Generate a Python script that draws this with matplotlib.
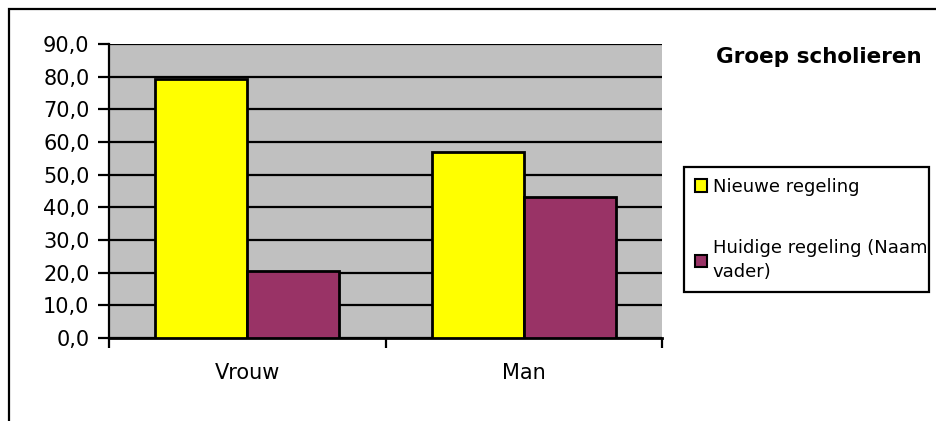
import matplotlib
matplotlib.use("Agg")
import matplotlib.pyplot as plt
from matplotlib.patches import Rectangle, Patch
import numpy as np

categories = ["Vrouw", "Man"]
series_names = ["Nieuwe regeling", "Huidige regeling (Naam\nvader)"]
nieuwe = [79.4, 56.8]
huidige = [20.6, 43.2]
yticks = [0, 10, 20, 30, 40, 50, 60, 70, 80, 90]
title = "Groep scholieren"

YELLOW = "#FFFF00"
PURPLE = "#993366"
GRAY = "#C0C0C0"

plt.rcParams['font.family'] = ['DejaVu Sans']

W, H = 936, 421
fig = plt.figure(figsize=(W / 100, H / 100), dpi=100)
ax = fig.add_axes([109 / W, 1 - 338 / H, (662 - 109) / W, (338 - 44) / H])
ax.set_facecolor(GRAY)

x = np.arange(len(categories))
w = 1 / 3
ax.bar(x - w / 2, nieuwe, width=w, color=YELLOW, edgecolor="black", linewidth=2, zorder=3, label=series_names[0])
ax.bar(x + w / 2, huidige, width=w, color=PURPLE, edgecolor="black", linewidth=2, zorder=3, label=series_names[1])

ax.set_xlim(-0.5, len(categories) - 0.5)
ax.set_ylim(0, 90)
ax.set_yticks(yticks)
ax.set_yticklabels([f"{v:.1f}".replace(".", ",") for v in yticks], fontsize=15)
ax.yaxis.grid(True, color="black", linewidth=1.6, zorder=1)
ax.set_axisbelow(True)

ax.set_xticks(x)
ax.set_xticklabels(categories, fontsize=15)
ax.tick_params(axis="x", length=0, pad=18)
ax.set_xticks([-0.5, 0.5, 1.5], minor=True)
ax.tick_params(axis="x", which="minor", length=7, width=1.6, direction="out")
ax.tick_params(axis="y", length=8, width=1.6, direction="out", pad=6)

for s in ["top", "right"]:
    ax.spines[s].set_visible(False)
ax.spines["left"].set_linewidth(1.6)
ax.spines["bottom"].set_linewidth(2)

fig.text(922 / W, 1 - 57 / H, title, fontsize=15.5, fontweight="bold", ha="right", va="center")

handles = [Patch(facecolor=YELLOW, edgecolor="black", linewidth=1.5),
           Patch(facecolor=PURPLE, edgecolor="black", linewidth=1.5)]
leg = fig.legend(handles, series_names, loc="upper left",
                 bbox_to_anchor=(684 / W, 1 - 296 / H, (929 - 684) / W, (296 - 167) / H),
                 mode="expand", fontsize=13, frameon=True, fancybox=False, framealpha=1,
                 edgecolor="black", borderpad=0.6, labelspacing=2.4,
                 handlelength=0.7, handleheight=0.7, handletextpad=0.3, borderaxespad=0)
for t in leg.get_texts():
    t.set_linespacing(1.45)
leg.get_frame().set_linewidth(1.6)

fig.patches.append(Rectangle((9 / W, -0.1), 1.2, 1 - 9 / H + 0.1, transform=fig.transFigure,
                             fill=False, edgecolor="black", linewidth=1.6))

fig.savefig("out.png", dpi=100)
